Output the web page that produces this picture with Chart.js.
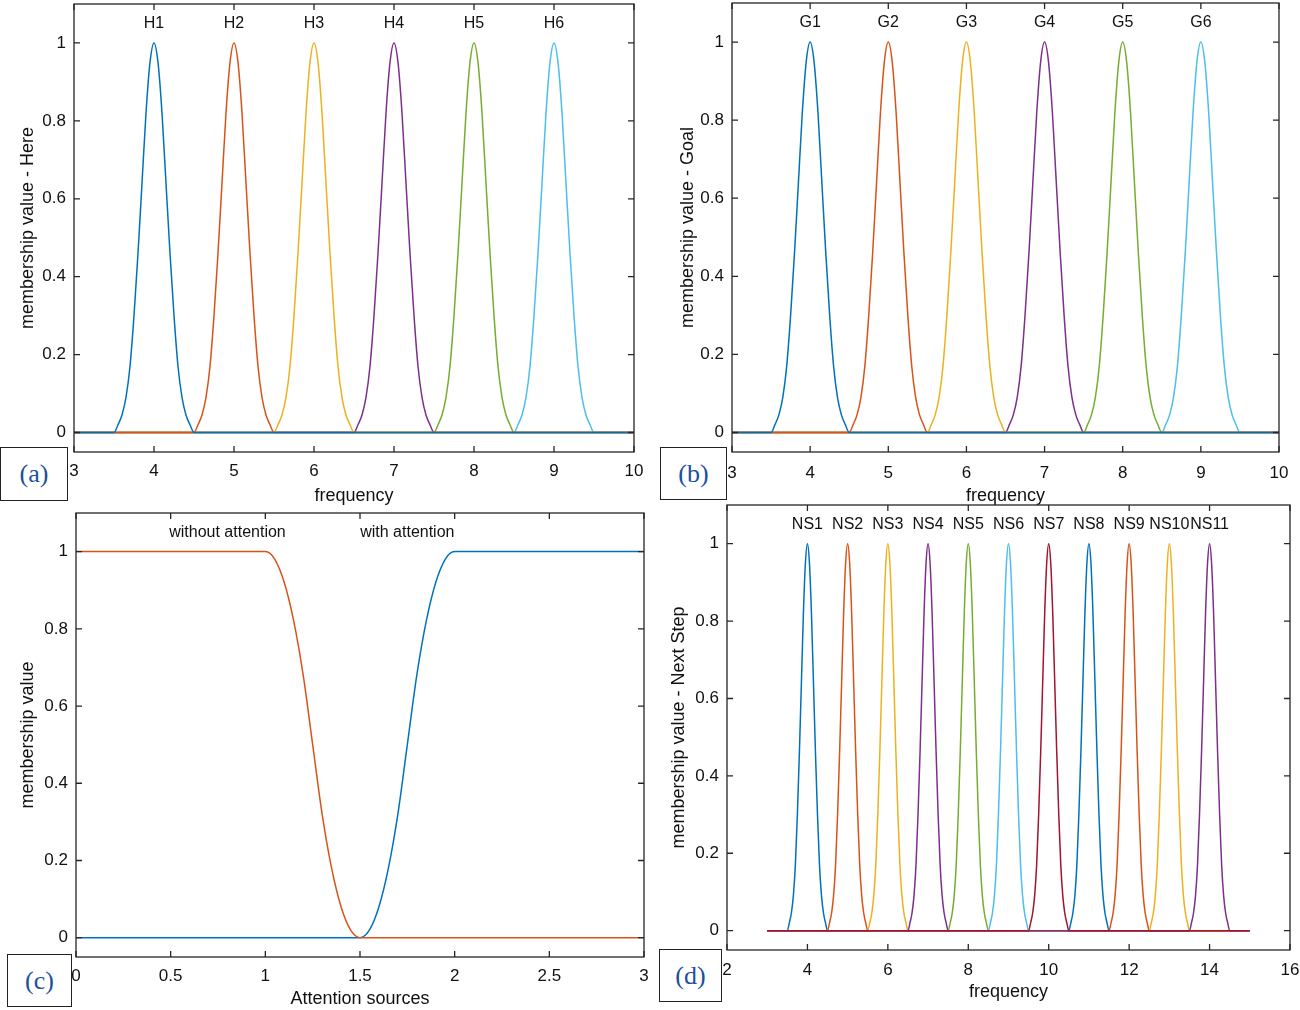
<!DOCTYPE html>
<html>
<head>
<meta charset="utf-8">
<script src="https://cdn.jsdelivr.net/npm/chart.js@4.4.1/dist/chart.umd.min.js"></script>
<style>
  body { margin: 0; background: #fff; }
  #fig { position: relative; width: 1300px; height: 1010px; overflow: hidden; }
  canvas { position: absolute; }
  .tag {
    position: absolute; box-sizing: border-box; background: #fff;
    border: 1.5px solid #222; color: #1d4f9e;
    font: 26px "Liberation Serif", "Times New Roman", serif;
    display: flex; align-items: center; justify-content: center;
  }
</style>
</head>
<body>
<div id="fig">
  <canvas id="chartA" width="650" height="505" style="left:0;top:0"></canvas>
  <canvas id="chartB" width="650" height="505" style="left:650px;top:0"></canvas>
  <canvas id="chartC" width="650" height="505" style="left:0;top:505px"></canvas>
  <canvas id="chartD" width="650" height="520" style="left:650px;top:490px"></canvas>
  <div class="tag" style="left:0;top:447px;width:68px;height:54px">(a)</div>
  <div class="tag" style="left:660px;top:447px;width:67px;height:53px">(b)</div>
  <div class="tag" style="left:7px;top:954px;width:65px;height:53px">(c)</div>
  <div class="tag" style="left:659px;top:949px;width:63px;height:53px">(d)</div>
</div>
<script>
// colours (MATLAB default order)
const palette = ['#0072BD', '#D95319', '#EDB120', '#7E2F8E', '#77AC30', '#4DBEEE', '#A2142F'];

// shape of one membership bump (offset from centre -> value)
const bumpOffsets = [-0.5, -0.45, -0.4, -0.35, -0.3, -0.25, -0.2, -0.15, -0.1, -0.05, 0,
                     0.05, 0.1, 0.15, 0.2, 0.25, 0.3, 0.35, 0.4, 0.45, 0.5];
const bumpValues = [0, 0.02, 0.045, 0.09, 0.17, 0.3, 0.46, 0.64, 0.82, 0.95, 1,
                    0.95, 0.82, 0.64, 0.46, 0.3, 0.17, 0.09, 0.045, 0.02, 0];

// (a) Here
const hereLabels = ['H1', 'H2', 'H3', 'H4', 'H5', 'H6'];
const hereCenters = [4, 5, 6, 7, 8, 9];
// (b) Goal
const goalLabels = ['G1', 'G2', 'G3', 'G4', 'G5', 'G6'];
const goalCenters = [4, 5, 6, 7, 8, 9];
const freqTicks = [3, 4, 5, 6, 7, 8, 9, 10];

// (c) attention
const withoutX = [0, 1, 1.05, 1.1, 1.15, 1.2, 1.25, 1.3, 1.35, 1.4, 1.45, 1.5, 3];
const withoutY = [1, 1, 0.98, 0.92, 0.82, 0.68, 0.5, 0.32, 0.18, 0.08, 0.02, 0, 0];
const withX = [0, 1.5, 1.55, 1.6, 1.65, 1.7, 1.75, 1.8, 1.85, 1.9, 1.95, 2, 3];
const withY = [0, 0, 0.02, 0.08, 0.18, 0.32, 0.5, 0.68, 0.82, 0.92, 0.98, 1, 1];
const attLabels = ['without attention', 'with attention'];
const attLabelX = [0.8, 1.75];
const attTicks = [0, 0.5, 1, 1.5, 2, 2.5, 3];

// (d) Next step
const nsLabels = ['NS1', 'NS2', 'NS3', 'NS4', 'NS5', 'NS6', 'NS7', 'NS8', 'NS9', 'NS10', 'NS11'];
const nsCenters = [4, 5, 6, 7, 8, 9, 10, 11, 12, 13, 14];
const nsTicks = [2, 4, 6, 8, 10, 12, 14, 16];

const yTicks = [0, 0.2, 0.4, 0.6, 0.8, 1];

const SANS = '"Liberation Sans", Arial, Helvetica, sans-serif';

function bump(center, xmin, xmax) {
  const pts = [{x: xmin, y: 0}];
  bumpOffsets.forEach((o, i) => pts.push({x: center + o, y: bumpValues[i]}));
  pts.push({x: xmax, y: 0});
  return pts;
}

function pairs(xs, ys) {
  return xs.map((x, i) => ({x: x, y: ys[i]}));
}

// box with inward ticks on all four sides + text labels above the curves
const framePlugin = {
  id: 'frame',
  afterDatasetsDraw(chart, args, opts) {
    const {ctx, chartArea: a} = chart;
    const x = chart.scales.x, y = chart.scales.y;
    ctx.save();
    ctx.strokeStyle = '#262626';
    ctx.lineWidth = 1.3;
    ctx.strokeRect(a.left, a.top, a.right - a.left, a.bottom - a.top);
    ctx.beginPath();
    x.ticks.forEach(t => {
      const px = x.getPixelForValue(t.value);
      ctx.moveTo(px, a.bottom); ctx.lineTo(px, a.bottom - 6);
      ctx.moveTo(px, a.top); ctx.lineTo(px, a.top + 6);
    });
    y.ticks.forEach(t => {
      const py = y.getPixelForValue(t.value);
      ctx.moveTo(a.left, py); ctx.lineTo(a.left + 6, py);
      ctx.moveTo(a.right, py); ctx.lineTo(a.right - 6, py);
    });
    ctx.stroke();
    ctx.fillStyle = '#111';
    ctx.font = '16px ' + SANS;
    ctx.textAlign = 'center';
    ctx.textBaseline = 'middle';
    (opts.labels || []).forEach((txt, i) => {
      ctx.fillText(txt, x.getPixelForValue(opts.xs[i]), y.getPixelForValue(opts.y));
    });
    ctx.restore();
  }
};

function makeChart(id, cfg) {
  const datasets = cfg.series.map((s, i) => ({
    data: s.data,
    borderColor: s.color,
    borderWidth: 1.5,
    pointRadius: 0,
    fill: false,
    cubicInterpolationMode: 'monotone',
    order: s.order !== undefined ? s.order : i
  }));
  return new Chart(document.getElementById(id), {
    type: 'line',
    data: {datasets: datasets},
    plugins: [framePlugin],
    options: {
      responsive: false,
      animation: false,
      events: [],
      layout: {padding: {left: 0, right: cfg.padRight, top: cfg.padTop, bottom: 0}},
      plugins: {
        legend: {display: false},
        tooltip: {enabled: false},
        frame: {labels: cfg.labels, xs: cfg.labelX, y: 1.05}
      },
      scales: {
        x: {
          type: 'linear',
          min: cfg.xTicks[0],
          max: cfg.xTicks[cfg.xTicks.length - 1],
          afterBuildTicks: sc => { sc.ticks = cfg.xTicks.map(v => ({value: v})); },
          afterFit: sc => { sc.height = cfg.xHeight; sc.paddingLeft = 0; sc.paddingRight = 0; },
          grid: {display: false, drawTicks: false},
          border: {display: false},
          ticks: {
            padding: cfg.xTickPad,
            color: '#111',
            font: {family: SANS, size: 17},
            maxRotation: 0,
            autoSkip: false,
            callback: v => String(v)
          },
          title: {
            display: true,
            text: cfg.xTitle,
            color: '#111',
            font: {family: SANS, size: 18, lineHeight: 1},
            padding: {top: 0, bottom: cfg.xTitlePad}
          }
        },
        y: {
          type: 'linear',
          min: -0.05,
          max: 1.1,
          afterBuildTicks: sc => { sc.ticks = yTicks.map(v => ({value: v})); },
          afterFit: sc => { sc.width = cfg.yWidth; sc.paddingTop = 0; sc.paddingBottom = 0; },
          grid: {display: false, drawTicks: false},
          border: {display: false},
          ticks: {
            padding: 8,
            color: '#111',
            font: {family: SANS, size: 17},
            callback: v => String(+v.toFixed(2))
          },
          title: {
            display: true,
            text: cfg.yTitle,
            color: '#111',
            font: {family: SANS, size: 18, lineHeight: 1},
            padding: {top: cfg.yTitlePad, bottom: 0}
          }
        }
      }
    }
  });
}

makeChart('chartA', {
  series: hereCenters.map((c, i) => ({data: bump(c, 3, 10), color: palette[i % 7]})),
  labels: hereLabels, labelX: hereCenters,
  xTicks: freqTicks, xTitle: 'frequency', yTitle: 'membership value - Here',
  padRight: 16, padTop: 4, xHeight: 53, yWidth: 74,
  xTickPad: 9, xTitlePad: 0, yTitlePad: 19
});

makeChart('chartB', {
  series: goalCenters.map((c, i) => ({data: bump(c, 3, 10), color: palette[i % 7]})),
  labels: goalLabels, labelX: goalCenters,
  xTicks: freqTicks, xTitle: 'frequency', yTitle: 'membership value - Goal',
  padRight: 21, padTop: 3, xHeight: 53, yWidth: 82,
  xTickPad: 11, xTitlePad: 0, yTitlePad: 29
});

makeChart('chartC', {
  series: [
    {data: pairs(withoutX, withoutY), color: palette[1]},
    {data: pairs(withX, withY), color: palette[0]}
  ],
  labels: attLabels, labelX: attLabelX,
  xTicks: attTicks, xTitle: 'Attention sources', yTitle: 'membership value',
  padRight: 6, padTop: 8, xHeight: 53, yWidth: 76,
  xTickPad: 9, xTitlePad: 2, yTitlePad: 19
});

makeChart('chartD', {
  series: nsCenters.map((c, i) => ({data: bump(c, 3, 15), color: palette[i % 7], order: i === 6 ? -1 : 11 - i})),
  labels: nsLabels, labelX: nsCenters,
  xTicks: nsTicks, xTitle: 'frequency', yTitle: 'membership value - Next Step',
  padRight: 10, padTop: 15, xHeight: 60, yWidth: 77,
  xTickPad: 10, xTitlePad: 9, yTitlePad: 20
});
</script>
</body>
</html>
